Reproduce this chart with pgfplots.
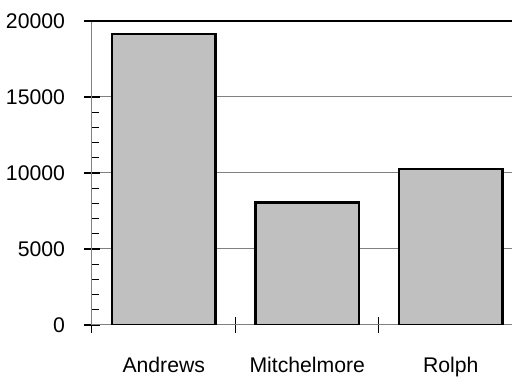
\documentclass[border=0pt]{standalone}
\usepackage{pgfplots}
\pgfplotsset{compat=1.18}
\usepackage{fontspec}
\setmainfont{Liberation Sans}
\definecolor{barfill}{RGB}{192,192,192}
\definecolor{gridgray}{RGB}{128,128,128}
\begin{document}
\begin{tikzpicture}
\useasboundingbox (-46pt,-26.5pt) rectangle (210pt,162.5pt);
\begin{axis}[
  at={(0,0)}, anchor=south west,
  scale only axis, width=210pt, height=152pt,
  xmin=-0.5, xmax=2.427, ymin=0, ymax=20000,
  axis x line*=bottom, axis y line*=left,
  axis line style={draw=gridgray, line width=0.5pt, -},
  ybar, bar width=0.72,
  ytick={0,5000,10000,15000}, extra y ticks={20000},
  extra y tick style={grid style={black, line width=0.6pt}},
  minor y tick num=4,
  ymajorgrids, grid style={gridgray, line width=0.5pt},
  tick align=center,
  major tick length=8pt, minor tick length=3.5pt,
  minor y tick style={xshift=1.75pt},
  y tick style={black, line width=0.6pt},
  x tick style={black, line width=0.5pt},
  scaled y ticks=false,
  /pgf/number format/assume math mode=true,
  /pgf/number format/1000 sep={},
  tick label style={font=\fontsize{10.6}{12}\selectfont},
  yticklabel style={xshift=-6pt},
  xtick={-0.5,0.5,1.5}, xticklabels={},
  extra x ticks={0,1,2},
  extra x tick labels={Andrews,Mitchelmore,Rolph},
  extra x tick style={major tick length=0pt, xticklabel style={yshift=-12.5pt}},
  xmajorgrids=false,
]
\addplot[fill=barfill, draw=black, line width=1.25pt] coordinates {(0,19150) (1,8070) (2,10250)};
\end{axis}
\end{tikzpicture}
\end{document}
